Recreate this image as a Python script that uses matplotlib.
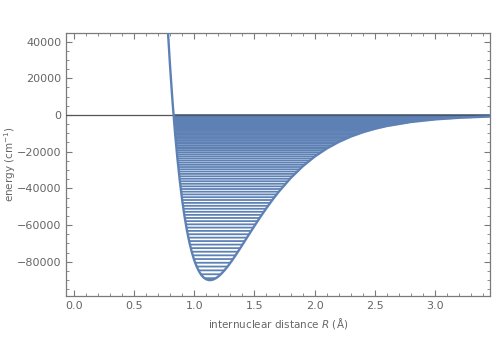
import matplotlib

matplotlib.use("Agg")
import matplotlib.pyplot as plt
import matplotlib.ticker as mticker
import numpy as np

BLUE = "#5E81B5"
FRAME = "#7a7a7a"
TEXT = "#666666"

# potential curve (R in Angstrom, energy in cm^-1)
curve_r = [0.76, 0.78, 0.80, 0.82, 0.84, 0.86, 0.88, 0.90, 0.92, 0.94, 0.96, 0.98,
           1.00, 1.02, 1.04, 1.06, 1.08, 1.10, 1.12, 1.14, 1.16, 1.18, 1.20, 1.22,
           1.25, 1.28, 1.31, 1.34, 1.37, 1.40, 1.45, 1.50, 1.55, 1.60, 1.65, 1.70,
           1.80, 1.90, 2.00, 2.10, 2.20, 2.30, 2.40, 2.50, 2.60, 2.80, 3.00, 3.20, 3.45]
curve_e = [72100, 47700, 26200, 7400, -9100, -23300, -35600, -46300, -55300, -63000,
           -69400, -74700, -79100, -82500, -85200, -87300, -88660, -89540, -89950,
           -89950, -89600, -88940, -88010, -86850, -84760, -82340, -79660, -76790,
           -73810, -70740, -65570, -60450, -55470, -50720, -46210, -41990, -34430,
           -28030, -22690, -18300, -14720, -11790, -9440, -7540, -6010, -3830,
           -2420, -1530, -860]

# vibrational level energies (cm^-1)
levels = [-88922, -86785, -84674, -82589, -80530, -78497, -76490, -74509, -72554,
          -70625, -68722, -66845, -64994, -63169, -61370, -59597, -57850, -56129,
          -54434, -52765, -51122, -49505, -47914, -46349, -44810, -43297, -41810,
          -40349, -38914, -37505, -36122, -34765, -33434, -32129, -30850, -29597,
          -28370, -27169, -25994, -24845, -23722, -22625, -21554, -20509, -19490,
          -18497, -17530, -16589, -15674, -14785, -13922, -13085, -12274, -11489,
          -10730, -9997, -9290, -8609, -7954, -7325, -6722, -6145, -5594, -5069,
          -4570, -4097, -3650, -3229, -2834, -2465, -2122, -1805, -1514, -1249,
          -1010, -797, -610, -449, -314, -205, -122, -65, -34]

r = np.array(curve_r)
e = np.array(curve_e)
imin = int(np.argmin(e))
inner_r, inner_e = r[:imin + 1][::-1], e[:imin + 1][::-1]
outer_r, outer_e = r[imin:], e[imin:]

lv = np.array(levels, dtype=float)
r_left = np.interp(lv, inner_e, inner_r)
r_right = np.interp(lv, outer_e, outer_r, right=outer_r[-1])

fig = plt.figure(figsize=(5, 3.5), dpi=100)
ax = fig.add_axes([0.132, 0.155, 0.848, 0.75])

ax.hlines(lv, r_left, r_right, color=BLUE, lw=1.3, zorder=2, snap=False)
ax.axhline(0, color="#555555", lw=0.9, zorder=3)
ax.plot(r, e, color=BLUE, lw=1.7, zorder=4, solid_capstyle="round")

ax.set_xlim(-0.064, 3.455)
ax.set_ylim(-98500, 44500)

for spine in ax.spines.values():
    spine.set_color(FRAME)
    spine.set_linewidth(0.9)
ax.xaxis.set_major_locator(mticker.MultipleLocator(0.5))
ax.xaxis.set_minor_locator(mticker.MultipleLocator(0.1))
ax.yaxis.set_major_locator(mticker.MultipleLocator(20000))
ax.yaxis.set_minor_locator(mticker.MultipleLocator(5000))
ax.xaxis.set_major_formatter(mticker.FuncFormatter(lambda x, _: f"{x:.1f}"))
ax.yaxis.set_major_formatter(mticker.FuncFormatter(lambda y, _: f"{y:.0f}".replace("-", "\u2212")))
ax.tick_params(which="both", direction="in", top=True, right=True, color=FRAME,
               labelcolor=TEXT, labelsize=8)
ax.tick_params(which="major", length=4, width=0.8)
ax.tick_params(which="minor", length=2.2, width=0.6)

ax.set_xlabel("internuclear distance $R$ (\u00c5)", color=TEXT, fontsize=7.5, labelpad=4)
ax.set_ylabel("energy (cm$^{-1}$)", color=TEXT, fontsize=7.5)
ax.yaxis.set_label_coords(-0.114, 0.5)

fig.savefig("out.png", dpi=100, facecolor="white")
